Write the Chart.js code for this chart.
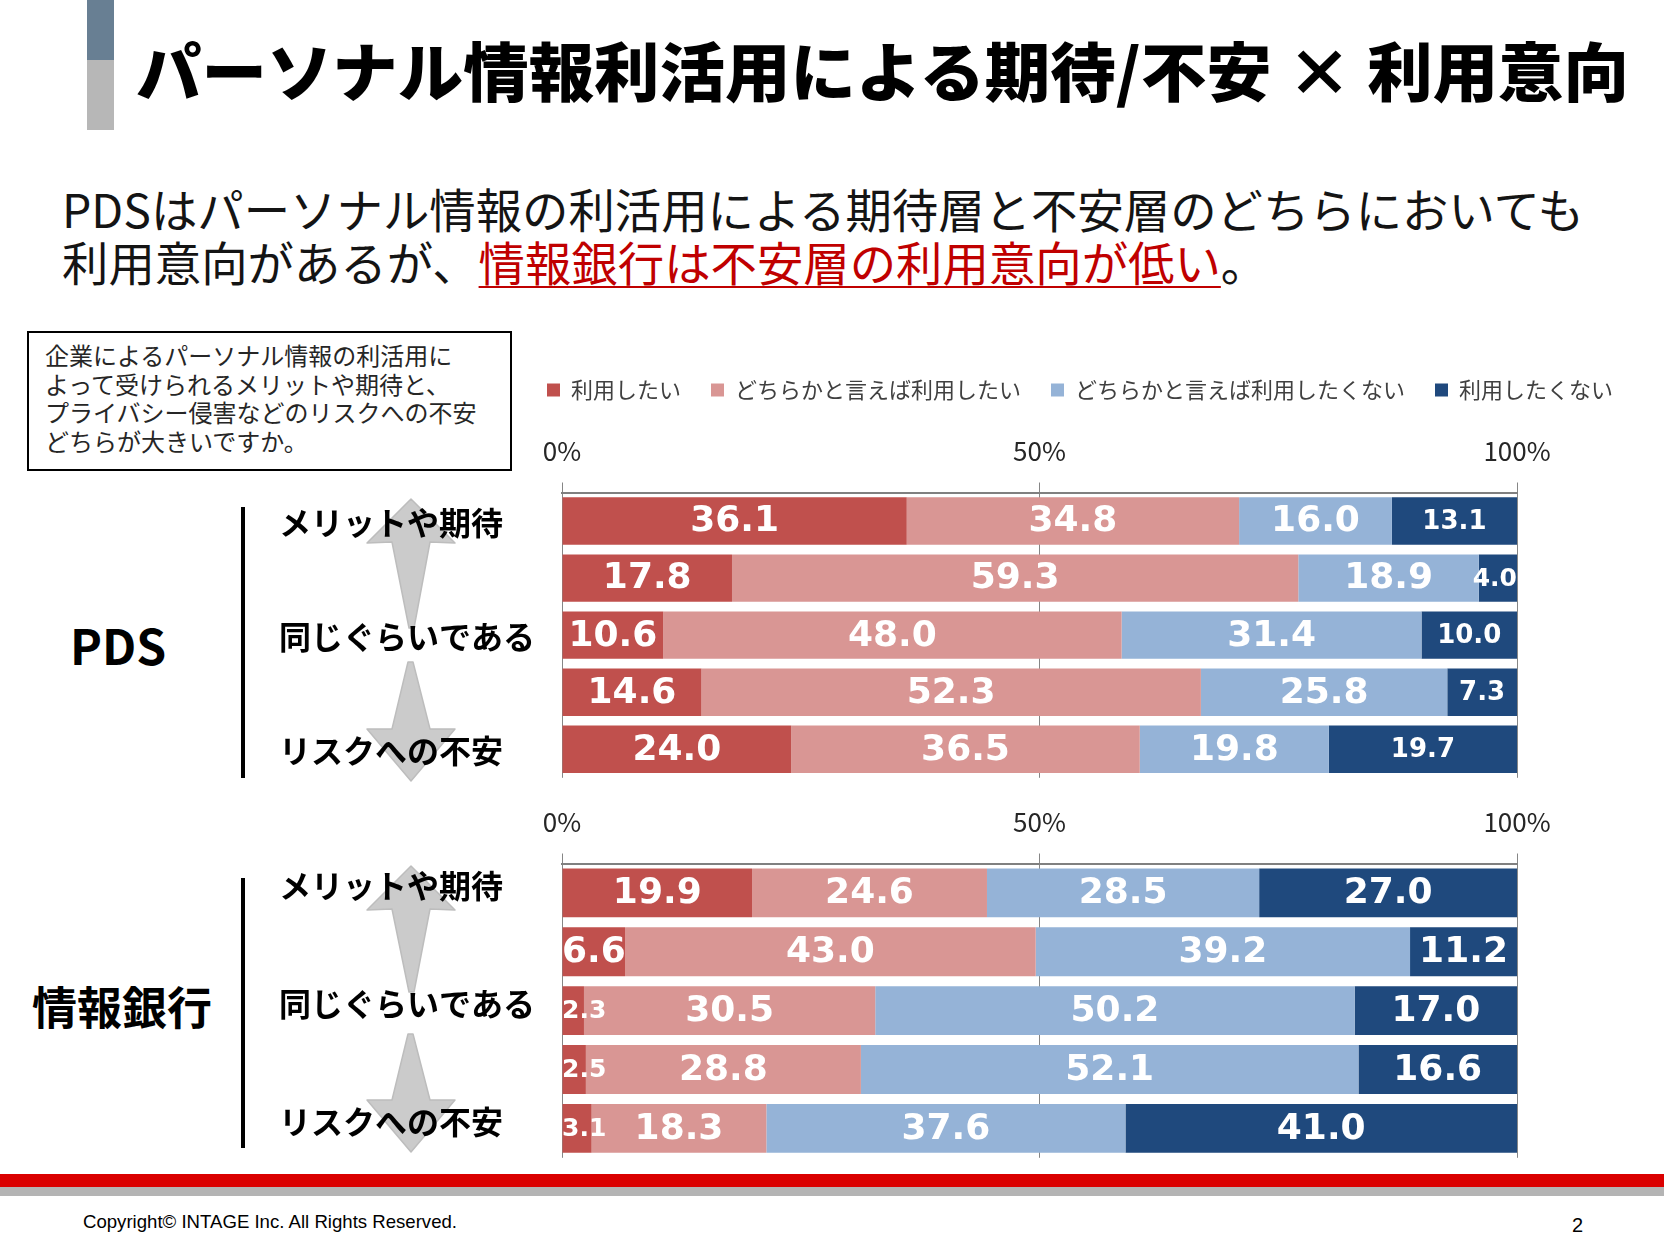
<!DOCTYPE html>
<html lang="ja">
<head>
<meta charset="utf-8">
<script src="https://cdn.jsdelivr.net/npm/chart.js@4.4.1/dist/chart.umd.min.js"></script>
<style>
  html, body { margin: 0; padding: 0; background: #ffffff; }
  body { width: 1664px; height: 1248px; position: relative; overflow: hidden; font-family: 'Noto Sans CJK JP', sans-serif; }
  .abs { position: absolute; }
  #title { left: 136px; top: 36px; font-size: 64px; line-height: 64px; font-weight: 900; color: #000; white-space: nowrap; transform-origin: left top; }
  #sub { left: 62px; top: 181px; font-size: 46.4px; line-height: 53px; color: #141414; white-space: nowrap; }
  #sub .hl { color: #C00000; text-decoration: underline; text-decoration-thickness: 2px; text-underline-offset: 5px; }
  #qbox { left: 27px; top: 331px; width: 485px; height: 140px; box-sizing: border-box; border: 2px solid #000; padding: 8px 0 0 16px; font-size: 24px; line-height: 28.5px; color: #262626; white-space: nowrap; }
  .grp { font-weight: 700; color: #000; white-space: nowrap; }
  .vline { background: #000; width: 4px; }
  canvas { position: absolute; }
</style>
</head>
<body>
<div class="abs" style="left:87px;top:0;width:27px;height:60px;background:#687F93;"></div>
<div class="abs" style="left:87px;top:60px;width:27px;height:70px;background:#B7B7B7;"></div>
<div id="title" class="abs">パーソナル情報利活用による期待/不安 × 利用意向</div>
<div id="sub" class="abs">PDSはパーソナル情報の利活用による期待層と不安層のどちらにおいても<br>利用意向があるが、<span class="hl">情報銀行は不安層の利用意向が低い</span>。</div>
<div id="qbox" class="abs">企業によるパーソナル情報の利活用に<br>よって受けられるメリットや期待と、<br>プライバシー侵害などのリスクへの不安<br>どちらが大きいですか。</div>

<svg class="abs" style="left:0;top:0;" width="1664" height="1248">
  <g fill="#CBCBCB" stroke="#BDBDBD" stroke-width="1.5" stroke-linejoin="round">
    <polygon points="411,499 455,543 430,542 414,628 409,628 392,542 367,543"/>
    <polygon points="408,662 413,662 430,729 455,729 411,781 367,729 392,729"/>
    <polygon points="411,866 455,910 430,909 414,992 409,992 392,909 367,910"/>
    <polygon points="408,1034 413,1034 430,1100 455,1100 411,1152 367,1100 392,1100"/>
  </g>
</svg>

<div class="abs grp" style="left:70px;top:620px;font-size:48px;line-height:48px;">PDS</div>
<div class="abs grp" style="left:32px;top:983px;font-size:45px;line-height:45px;">情報銀行</div>
<div class="abs vline" style="left:241px;top:507px;height:271px;"></div>
<div class="abs vline" style="left:241px;top:878px;height:270px;"></div>

<canvas id="c1" width="1385" height="451" style="left:279px;top:349px;"></canvas>
<canvas id="c2" width="1385" height="380" style="left:279px;top:800px;"></canvas>

<div class="abs" style="left:0;top:1174px;width:1664px;height:13px;background:#DA0000;"></div>
<div class="abs" style="left:0;top:1187px;width:1664px;height:9px;background:#B4B4B4;"></div>
<div class="abs" style="left:83px;top:1211px;font-family:'Liberation Sans',Arial,sans-serif;font-size:18.6px;line-height:21px;color:#000;white-space:nowrap;">Copyright© INTAGE Inc. All Rights Reserved.</div>
<div class="abs" style="left:1572px;top:1213px;font-family:'Liberation Sans',Arial,sans-serif;font-size:20px;line-height:24px;color:#000;">2</div>

<script>
// ---- data ----
const categories = ['メリットや期待', '', '同じぐらいである', '', 'リスクへの不安'];
const seriesNames = ['利用したい', 'どちらかと言えば利用したい', 'どちらかと言えば利用したくない', '利用したくない'];
const pdsWant        = [36.1, 17.8, 10.6, 14.6, 24.0];
const pdsRatherWant  = [34.8, 59.3, 48.0, 52.3, 36.5];
const pdsRatherNot   = [16.0, 18.9, 31.4, 25.8, 19.8];
const pdsNot         = [13.1, 4.0, 10.0, 7.3, 19.7];
const bankWant       = [19.9, 6.6, 2.3, 2.5, 3.1];
const bankRatherWant = [24.6, 43.0, 30.5, 28.8, 18.3];
const bankRatherNot  = [28.5, 39.2, 50.2, 52.1, 37.6];
const bankNot        = [27.0, 11.2, 17.0, 16.6, 41.0];
const axisMin = 0, axisMax = 100, axisStep = 50;
const seriesColors = ['#C0504D', '#D99694', '#95B3D7', '#1F497D'];

(function () {
  const t = document.getElementById('title');
  const w = t.getBoundingClientRect().width;
  t.style.transform = 'scaleX(' + (1493 / w) + ')';
})();

Chart.defaults.font.family = "'Noto Sans CJK JP', sans-serif";
Chart.defaults.color = '#262626';

const segLabels = {
  id: 'segLabels',
  afterDatasetsDraw(chart, args, opts) {
    const ctx = chart.ctx;
    const area = chart.chartArea;
    ctx.save();
    ctx.fillStyle = '#FFFFFF';
    ctx.textAlign = 'center';
    ctx.textBaseline = 'middle';
    chart.data.datasets.forEach((ds, di) => {
      const meta = chart.getDatasetMeta(di);
      meta.data.forEach((bar, i) => {
        const v = ds.data[i];
        const l = Math.min(bar.x, bar.base), r = Math.max(bar.x, bar.base);
        const w = r - l;
        let size = opts.bigSize;
        if (w < 40) size = opts.tinySize;
        else if (di === opts.reducedDataset) size = opts.smallSize;
        ctx.font = 'bold ' + size + "px 'DejaVu Sans', sans-serif";
        const text = v.toFixed(1);
        const tw = ctx.measureText(text).width;
        let cx = (l + r) / 2;
        cx = Math.max(area.left + tw / 2, Math.min(area.right - tw / 2, cx));
        ctx.fillText(text, cx, bar.y + 1);
      });
    });
    ctx.restore();
  }
};

function makeDatasets(arrs) {
  return arrs.map((d, k) => ({
    label: seriesNames[k],
    data: d,
    backgroundColor: seriesColors[k],
    borderWidth: 0,
    barPercentage: 0.83,
    categoryPercentage: 1.0
  }));
}

function makeOptions(withLegend, xAxisHeight, reduced, padBottom, labelShift) {
  const scales = {
    x: {
      type: 'linear', position: 'top', stacked: true,
      min: axisMin, max: axisMax,
      afterFit: s => { s.height = xAxisHeight; },
      ticks: { stepSize: axisStep, callback: v => v + '%', font: { size: 26 }, color: '#262626', padding: 16, maxRotation: 0 },
      grid: { color: '#868686', lineWidth: 1, tickLength: 10, drawTicks: true },
      border: { display: true, color: '#808080', width: 2 }
    },
    y: {
      type: 'category', position: 'left', stacked: true,
      afterFit: s => { s.width = 283; },
      ticks: { autoSkip: false, crossAlign: 'far', labelOffset: labelShift, color: '#000000', font: { size: 32, weight: 'bold' } },
      grid: { display: false },
      border: { display: false }
    }
  };
  if (withLegend) {
    scales.yR = {
      type: 'category', position: 'right', display: true,
      afterFit: s => { s.width = 126; },
      ticks: { display: false }, grid: { display: false }, border: { display: false }
    };
  }
  return {
    indexAxis: 'y',
    responsive: false,
    animation: false,
    devicePixelRatio: 1,
    layout: { padding: withLegend ? { left: 0, right: 21, top: 0, bottom: padBottom } : { left: 0, right: 147, top: 0, bottom: padBottom } },
    scales: scales,
    plugins: {
      legend: {
        display: withLegend,
        position: 'top',
        align: 'end',
        labels: { boxWidth: 13, boxHeight: 13, padding: 30, color: '#404040', font: { size: 22 } }
      },
      tooltip: { enabled: false },
      segLabels: { bigSize: 36, smallSize: 26, tinySize: 25, reducedDataset: reduced }
    }
  };
}

new Chart(document.getElementById('c1'), {
  type: 'bar',
  data: { labels: categories, datasets: makeDatasets([pdsWant, pdsRatherWant, pdsRatherNot, pdsNot]) },
  options: makeOptions(true, 81.5, 3, 13.8, 2),
  plugins: [segLabels]
});

new Chart(document.getElementById('c2'), {
  type: 'bar',
  data: { labels: categories, datasets: makeDatasets([bankWant, bankRatherWant, bankRatherNot, bankNot]) },
  options: makeOptions(false, 63.5, -1, 13.8, -7),
  plugins: [segLabels]
});
</script>
</body>
</html>
